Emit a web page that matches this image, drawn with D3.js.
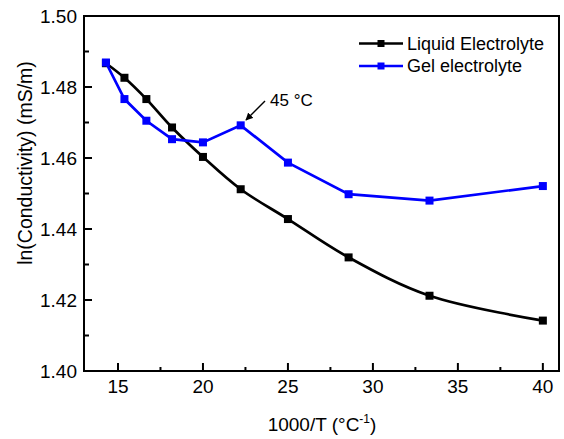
<!DOCTYPE html>
<html>
<head>
<meta charset="utf-8">
<script src="https://cdn.jsdelivr.net/npm/d3@7"></script>
<style>
  body { margin: 0; background: #fff; }
  svg { font-family: "Liberation Sans", Arial, sans-serif; }
</style>
</head>
<body>
<svg id="chart" width="564" height="439"></svg>
<script>
// 1000/T for 70, 65, ..., 25 °C
const invTemp = [14.29, 15.38, 16.67, 18.18, 20, 22.22, 25, 28.57, 33.33, 40];
const liquid = [1.4867, 1.4826, 1.4766, 1.4686, 1.4603, 1.4512, 1.4428, 1.4320, 1.4212, 1.4142];
const gel = [1.4869, 1.4766, 1.4705, 1.4653, 1.4644, 1.4692, 1.4587, 1.4498, 1.4480, 1.4521];
const xTicks = [15, 20, 25, 30, 35, 40];
const yTicks = [1.40, 1.42, 1.44, 1.46, 1.48, 1.50];

const svg = d3.select('#chart');
const plotL = 84, plotR = 559, plotT = 16, plotB = 371;

const x = d3.scaleLinear().domain([13, 40.95]).range([plotL, plotR]);
const y = d3.scaleLinear().domain([1.40, 1.50]).range([plotB, plotT]);

// frame
svg.append('rect')
    .attr('x', plotL).attr('y', plotT)
    .attr('width', plotR - plotL).attr('height', plotB - plotT)
    .attr('fill', 'none').attr('stroke', '#000').attr('stroke-width', 2);

// x ticks (inward)
const xMinor = d3.range(17.5, 40, 5);
svg.append('g').selectAll('line').data(xTicks).join('line')
    .attr('x1', d => x(d)).attr('x2', d => x(d))
    .attr('y1', plotB).attr('y2', plotB - 8)
    .attr('stroke', '#000').attr('stroke-width', 2);
svg.append('g').selectAll('line').data(xMinor).join('line')
    .attr('x1', d => x(d)).attr('x2', d => x(d))
    .attr('y1', plotB).attr('y2', plotB - 4)
    .attr('stroke', '#000').attr('stroke-width', 2);
svg.append('g').selectAll('text').data(xTicks).join('text')
    .attr('x', d => x(d)).attr('y', plotB + 22)
    .attr('text-anchor', 'middle').attr('font-size', 19)
    .text(d => d);

// y ticks (inward)
const yMinor = d3.range(1.41, 1.50, 0.02);
svg.append('g').selectAll('line').data(yTicks).join('line')
    .attr('x1', plotL).attr('x2', plotL + 8)
    .attr('y1', d => y(d)).attr('y2', d => y(d))
    .attr('stroke', '#000').attr('stroke-width', 2);
svg.append('g').selectAll('line').data(yMinor).join('line')
    .attr('x1', plotL).attr('x2', plotL + 5)
    .attr('y1', d => y(d)).attr('y2', d => y(d))
    .attr('stroke', '#000').attr('stroke-width', 2);
svg.append('g').selectAll('text').data(yTicks).join('text')
    .attr('x', plotL - 7).attr('y', d => y(d) + 7)
    .attr('text-anchor', 'end').attr('font-size', 19)
    .text(d => d.toFixed(2));

// axis titles
const xt = svg.append('text')
    .attr('x', 322).attr('y', 431)
    .attr('text-anchor', 'middle').attr('font-size', 19);
xt.append('tspan').text('1000/T (°C');
xt.append('tspan').attr('font-size', 12).attr('dy', -8).text('-1');
xt.append('tspan').attr('dy', 8).text(')');

svg.append('text')
    .attr('transform', `translate(32,163) rotate(-90)`)
    .attr('text-anchor', 'middle').attr('font-size', 19.5)
    .text('ln(Conductivity) (mS/m)');

// series
function drawSeries(vals, color, curve) {
    const pts = invTemp.map((t, i) => [t, vals[i]]);
    const line = d3.line().x(d => x(d[0])).y(d => y(d[1])).curve(curve);
    svg.append('path').datum(pts)
        .attr('d', line).attr('fill', 'none')
        .attr('stroke', color).attr('stroke-width', 2.7);
    svg.append('g').selectAll('rect').data(pts).join('rect')
        .attr('x', d => x(d[0]) - 4).attr('y', d => y(d[1]) - 4)
        .attr('width', 8).attr('height', 8).attr('fill', color);
}
drawSeries(liquid, '#000', d3.curveCatmullRom);
drawSeries(gel, '#0000ff', d3.curveLinear);

// legend
const legend = [['Liquid Electrolyte', '#000'], ['Gel electrolyte', '#0000ff']];
const lg = svg.append('g').selectAll('g').data(legend).join('g')
    .attr('transform', (d, i) => `translate(359,${43.5 + i * 22.5})`);
lg.append('line').attr('x1', 0).attr('x2', 44).attr('y1', 0).attr('y2', 0)
    .attr('stroke', d => d[1]).attr('stroke-width', 2.7);
lg.append('rect').attr('x', 18.5).attr('y', -3.5).attr('width', 7).attr('height', 7)
    .attr('fill', d => d[1]);
lg.append('text').attr('x', 48).attr('y', 6).attr('font-size', 18)
    .text(d => d[0]);

// annotation
svg.append('defs').append('marker')
    .attr('id', 'arrow').attr('viewBox', '0 0 10 10')
    .attr('refX', 9).attr('refY', 5)
    .attr('markerWidth', 5).attr('markerHeight', 5)
    .attr('orient', 'auto')
    .append('path').attr('d', 'M0,0 L10,5 L0,10 z').attr('fill', '#000');
svg.append('line')
    .attr('x1', 265).attr('y1', 101).attr('x2', 246).attr('y2', 120)
    .attr('stroke', '#000').attr('stroke-width', 1.5)
    .attr('marker-end', 'url(#arrow)');
svg.append('text').attr('x', 270).attr('y', 106).attr('font-size', 17)
    .text('45 °C');
</script>
</body>
</html>
